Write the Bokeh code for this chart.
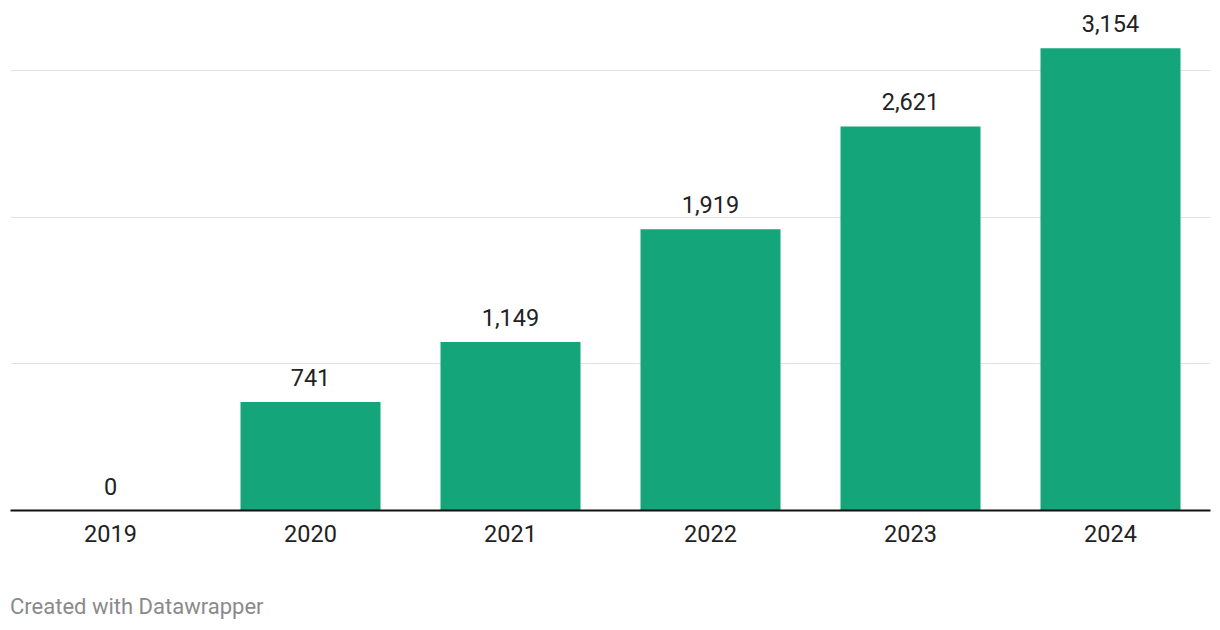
from bokeh.plotting import figure
from bokeh.models import FactorRange, Range1d, FixedTicker, ColumnDataSource, Div
from bokeh.layouts import column
from bokeh.embed import file_html
from bokeh.resources import INLINE
from bokeh.core.properties import value

years = ["2019", "2020", "2021", "2022", "2023", "2024"]
counts = [0, 741, 1149, 1919, 2621, 3154]
labels = ["0", "741", "1,149", "1,919", "2,621", "3,154"]
grid_values = [1000, 2000, 3000]
credit_text = "Created with Datawrapper"

src = ColumnDataSource(dict(x=years, top=counts, label=labels))

p = figure(width=1220, height=580, x_range=FactorRange(*years, range_padding=0),
           y_range=Range1d(0, 3480), output_backend="svg", toolbar_location=None,
           min_border_left=10, min_border_right=10, min_border_top=0, min_border_bottom=70)
p.outline_line_color = None
p.background_fill_color = "white"

p.vbar(x="x", top="top", width=0.7, source=src, fill_color="#14a57a", line_color=None)
p.text(x="x", y="top", text="label", source=src, text_align="center", text_baseline="bottom",
       y_offset=-16, text_font=value("Roboto"), text_font_size="23.5px", text_color="#222222")

p.yaxis.visible = False
p.ygrid.ticker = FixedTicker(ticks=grid_values)
p.ygrid.grid_line_color = "#e2e2e2"
p.ygrid.grid_line_width = 1
p.xgrid.grid_line_color = None

ax = p.xaxis[0]
ax.axis_line_color = "#111111"
ax.axis_line_width = 2
ax.major_tick_line_color = None
ax.minor_tick_line_color = None
ax.major_label_standoff = 8
ax.major_label_text_font = "Roboto"
ax.major_label_text_font_size = "23.5px"
ax.major_label_text_color = "#222222"

credit = Div(text=credit_text, width=1220, height=50,
             styles={"font-family": "Roboto", "font-size": "22px", "color": "#8a8a8a",
                     "padding-left": "5px", "padding-top": "9px", "line-height": "1.2",
                     "box-sizing": "border-box"})

layout = column(p, credit, spacing=0)

open("out.html", "w").write(file_html(layout, INLINE))
